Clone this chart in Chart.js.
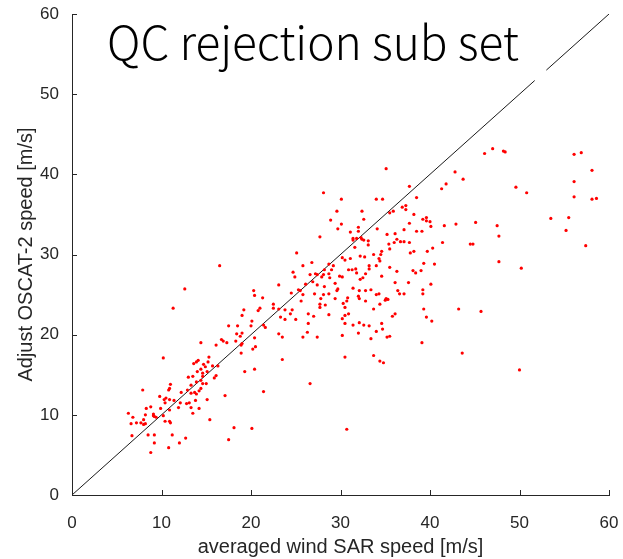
<!DOCTYPE html>
<html>
<head>
<meta charset="utf-8">
<script src="https://cdn.jsdelivr.net/npm/chart.js@4.4.1/dist/chart.umd.min.js"></script>
<style>
  html, body { margin: 0; padding: 0; background: #ffffff; }
  #wrap { width: 623px; height: 559px; }
</style>
</head>
<body>
<div id="wrap"><canvas id="c" width="623" height="559"></canvas></div>
<script>
const chartTitle = 'QC rejection sub set';
const xAxisTitle = 'averaged wind SAR speed [m/s]';
const yAxisTitle = 'Adjust OSCAT-2 speed [m/s]';
const xTicks = [0, 10, 20, 30, 40, 50, 60];
const yTicks = [0, 10, 20, 30, 40, 50, 60];

// averaged wind SAR speed (x) of each sample
const sarSpeed = [
  11.3,19.2,19.0,21.0,20.8,22.5,22.5,23.1,20.1,20.0,
  21.4,21.6,17.5,18.5,18.4,18.8,19.0,20.4,23.1,16.7,
  16.9,17.3,18.3,18.9,19.0,16.1,14.4,20.5,20.2,18.9,
  10.2,15.3,15.2,14.1,13.9,13.6,14.7,15.7,16.3,14.4,
  14.0,15.1,14.6,14.9,19.3,20.4,16.1,15.9,13.0,13.5,
  14.6,14.4,13.9,14.6,15.0,11.0,13.3,7.9,10.9,10.8,
  12.9,14.4,14.2,13.7,13.9,13.3,12.2,21.4,9.8,10.5,
  10.3,10.9,11.4,17.1,13.8,15.1,12.1,12.8,13.1,10.4,
  8.8,8.3,9.9,11.9,13.3,14.2,10.9,13.5,6.3,6.8,
  8.2,8.0,8.2,8.0,9.1,9.2,9.1,9.4,10.2,6.6,
  7.2,7.7,15.4,10.4,10.9,11.0,18.1,20.1,6.7,8.5,
  9.2,11.2,12.7,17.5,9.2,12.0,10.8,8.8,
  16.5,12.6,20.3,20.4,21.3,23.1,
  35.1,28.1,30.1,34.0,34.7,37.7,38.5,36.9,37.3,37.3,
  29.6,32.4,35.5,35.9,38.2,28.9,30.1,32.6,37.7,39.2,
  39.6,39.6,40.0,40.1,29.7,32.0,32.0,34.1,37.1,38.5,
  39.1,31.1,35.2,36.1,27.7,31.4,31.4,31.8,32.3,32.4,
  32.6,33.1,36.3,36.0,36.7,37.1,37.7,33.1,35.4,35.5,
  31.6,40.3,39.7,25.1,37.8,38.2,34.6,34.5,33.7,34.3,
  34.4,30.2,32.2,32.7,31.1,30.5,26.8,28.7,25.8,29.2,
  33.2,34.0,33.2,35.5,39.3,40.5,30.9,31.3,31.7,31.8,
  29.0,28.2,24.7,36.3,38.1,38.4,39.0,32.8,32.5,26.6,
  27.2,27.4,28.1,27.9,28.7,28.8,29.9,30.2,24.9,32.2,
  34.6,36.1,37.6,40.1,26.1,27.4,26.9,28.2,29.4,29.7,
  29.6,31.4,32.8,32.1,32.0,36.4,36.6,37.1,39.2,39.2,
  33.4,34.0,34.3,24.5,25.3,25.5,25.8,27.1,28.1,28.7,
  27.8,29.4,30.8,32.1,35.1,35.3,
  25.6,27.7,27.7,28.3,30.3,30.5,30.7,32.8,34.4,35.0,
  33.7,39.3,23.8,24.6,24.4,23.3,23.8,25.0,26.4,27.0,
  28.7,30.2,30.5,30.9,36.1,35.8,39.6,40.2,26.4,30.5,
  31.4,32.1,32.6,33.2,34.6,26.3,34.7,34.0,32.0,23.5,
  25.8,27.4,30.2,33.4,35.2,35.5,39.1,23.5,30.5,33.7,
  34.4,34.8,26.6,30.7,
  46.1,47.0,48.2,48.4,56.1,56.9,42.8,43.7,41.8,41.3,
  49.6,50.8,58.1,56.1,56.1,58.1,58.6,41.6,42.9,45.1,
  47.5,53.5,55.5,55.2,41.4,44.5,44.8,47.7,57.4,47.7,
  50.2,43.2,45.7,43.6,50.0
];

// adjusted OSCAT-2 speed (y) of each sample
const oscatSpeed = [
  23.3,23.1,22.4,23.3,23.0,23.8,23.3,23.2,21.7,21.1,
  21.2,20.9,21.1,21.1,20.1,19.8,20.2,19.6,20.1,19.4,
  19.2,19.0,19.2,18.7,18.9,18.7,19.0,18.5,18.2,17.7,
  17.1,17.2,16.6,16.8,16.6,16.4,16.3,16.1,16.1,15.7,
  15.4,15.4,15.2,16.0,15.4,15.7,14.9,14.6,14.7,14.8,
  14.8,14.3,14.1,13.9,13.9,13.8,13.7,13.1,13.3,13.1,
  13.1,13.3,13.0,12.8,12.6,12.7,12.8,12.9,12.3,12.1,
  11.9,11.9,11.8,12.4,11.8,11.9,11.5,11.4,11.5,11.5,
  11.0,10.8,10.8,10.9,10.9,10.8,10.6,10.2,10.2,9.7,
  10.0,9.4,8.9,8.8,10.1,9.8,9.9,9.7,9.9,8.9,
  9.0,9.0,9.4,9.2,9.2,9.0,8.4,8.3,7.4,7.5,
  7.5,7.5,7.1,6.9,6.5,6.5,5.9,5.3,
  28.6,25.7,25.5,24.9,24.6,26.2,
  40.7,37.7,36.9,36.9,36.9,38.5,37.1,35.9,36.1,35.6,
  35.4,35.4,35.2,35.4,35.0,34.3,33.8,34.4,33.9,34.4,
  34.6,34.2,34.1,33.5,33.2,33.4,32.9,33.2,33.1,32.9,
  32.9,32.8,32.5,32.6,32.2,32.0,31.8,32.0,32.1,31.9,
  31.8,31.7,31.9,31.5,31.6,31.6,31.5,31.2,31.3,30.7,
  30.9,30.8,30.4,30.2,30.2,30.4,30.4,30.0,30.0,29.5,
  29.2,29.6,29.8,29.7,29.5,29.3,29.0,28.8,28.6,28.6,
  28.6,28.6,28.2,28.4,28.9,28.8,28.1,28.1,28.2,27.7,
  28.1,28.1,27.8,27.9,28.0,27.7,28.0,27.6,27.1,27.5,
  27.6,27.5,27.5,27.2,27.6,27.1,27.3,27.2,27.2,26.9,
  27.3,26.5,26.5,26.3,26.3,26.2,26.6,26.0,26.4,25.7,
  25.5,25.8,25.5,25.5,24.8,25.5,25.1,25.1,25.6,25.1,
  25.6,25.0,25.1,25.2,25.6,25.5,25.0,25.1,25.0,25.1,
  24.5,24.5,24.6,24.5,24.5,24.4,
  24.2,23.8,23.4,23.7,23.9,23.4,24.2,24.2,23.8,24.3,
  23.2,23.2,23.1,23.1,22.6,22.2,21.9,21.9,22.6,22.3,
  22.5,22.0,22.4,22.6,22.6,22.3,22.2,21.7,21.4,21.4,
  21.2,21.5,21.2,21.1,21.4,20.3,20.7,20.4,20.2,19.7,
  19.7,19.7,19.9,19.5,19.7,19.8,19.0,16.9,17.2,17.4,
  16.7,16.5,13.9,8.2,
  42.6,43.2,42.9,42.8,42.5,42.7,40.3,39.4,38.8,38.2,
  38.4,37.7,40.5,39.1,37.2,36.9,37.0,33.6,33.8,34.0,
  33.6,34.5,34.6,33.0,31.5,31.3,31.3,32.3,31.1,29.1,
  28.3,23.2,22.9,17.7,15.6
];

// 1:1 reference line (with the small break seen near the top right)
const diagX = [0, 51.7, 52.3, 53.0, 60];
const diagY = [0, 51.7, null, 53.0, 60];

const axisColor = '#262626';
const tickFont = { family: '"Liberation Sans", Arial, Helvetica, sans-serif', size: 17 };
const titleFont = { family: '"Liberation Sans", Arial, Helvetica, sans-serif', size: 20 };

const points = sarSpeed.map((v, i) => ({ x: v, y: oscatSpeed[i] }));
const diag = diagX.map((v, i) => ({ x: v, y: diagY[i] }));

const innerTicks = {
  id: 'innerTicks',
  afterDraw(chart) {
    const { ctx, chartArea: a, scales: { x, y } } = chart;
    ctx.save();
    ctx.strokeStyle = axisColor;
    ctx.lineWidth = 1;
    ctx.beginPath();
    xTicks.forEach(v => {
      const px = Math.round(x.getPixelForValue(v)) + 0.5;
      ctx.moveTo(px, a.bottom);
      ctx.lineTo(px, a.bottom - 5);
    });
    yTicks.forEach(v => {
      const py = Math.round(y.getPixelForValue(v)) + 0.5;
      ctx.moveTo(a.left, py);
      ctx.lineTo(a.left + 5, py);
    });
    ctx.stroke();
    ctx.restore();
  }
};

const insideTitle = {
  id: 'insideTitle',
  afterDraw(chart) {
    const { ctx, chartArea: a } = chart;
    ctx.save();
    ctx.font = '300 46px "Noto Sans CJK SC", "Noto Sans", sans-serif';
    ctx.fillStyle = '#000000';
    ctx.textAlign = 'left';
    ctx.textBaseline = 'alphabetic';
    ctx.fillText(chartTitle, a.left + 35, a.top + 46);
    ctx.restore();
  }
};

new Chart(document.getElementById('c'), {
  type: 'scatter',
  data: {
    datasets: [
      {
        label: 'samples',
        data: points,
        pointStyle: 'circle',
        pointRadius: 1.6,
        pointBackgroundColor: '#ff0000',
        pointBorderWidth: 0,
        showLine: false
      },
      {
        label: '1:1',
        type: 'line',
        data: diag,
        borderColor: '#1a1a1a',
        borderWidth: 1,
        pointRadius: 0,
        spanGaps: false,
        fill: false,
        tension: 0
      }
    ]
  },
  options: {
    responsive: false,
    animation: false,
    events: [],
    layout: { padding: { top: 14, right: 14, left: 0, bottom: 0 } },
    plugins: { legend: { display: false }, tooltip: { enabled: false }, title: { display: false } },
    scales: {
      x: {
        type: 'linear', min: 0, max: 60,
        afterBuildTicks: s => { s.ticks = xTicks.map(v => ({ value: v })); },
        afterFit: s => { s.height = 64; s.paddingLeft = 0; s.paddingRight = 0; },
        ticks: { color: axisColor, font: tickFont, padding: 18, maxRotation: 0 },
        grid: { display: false, drawTicks: false },
        border: { display: true, color: axisColor, width: 1 },
        title: { display: true, text: xAxisTitle, color: axisColor, font: titleFont, padding: { top: 0, bottom: 0 } }
      },
      y: {
        type: 'linear', min: 0, max: 60,
        afterBuildTicks: s => { s.ticks = yTicks.map(v => ({ value: v })); },
        afterFit: s => { s.width = 72; s.paddingTop = 0; s.paddingBottom = 0; },
        ticks: { color: axisColor, font: tickFont, padding: 13 },
        grid: { display: false, drawTicks: false },
        border: { display: true, color: axisColor, width: 1 },
        title: { display: true, text: yAxisTitle, color: axisColor, font: titleFont, padding: { top: 14, bottom: 0 } }
      }
    }
  },
  plugins: [innerTicks, insideTitle]
});
</script>
</body>
</html>
